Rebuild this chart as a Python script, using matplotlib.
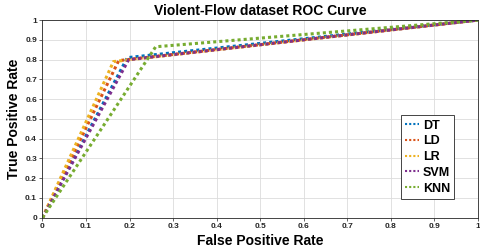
import matplotlib
matplotlib.use("Agg")
import matplotlib.pyplot as plt

models = ["DT", "LD", "LR", "SVM", "KNN"]
colors = ["#0072BD", "#D95319", "#EDB120", "#7E2F8E", "#77AC30"]
fpr = {
    "DT":  [0, 0.195, 1],
    "LD":  [0, 0.175, 1],
    "LR":  [0, 0.163, 1],
    "SVM": [0, 0.198, 1],
    "KNN": [0, 0.26, 1],
}
tpr = {
    "DT":  [0, 0.81, 1],
    "LD":  [0, 0.795, 1],
    "LR":  [0, 0.79, 1],
    "SVM": [0, 0.80, 1],
    "KNN": [0, 0.865, 1],
}
ticks = [0, 0.1, 0.2, 0.3, 0.4, 0.5, 0.6, 0.7, 0.8, 0.9, 1]
tick_labels = ["0", "0.1", "0.2", "0.3", "0.4", "0.5", "0.6", "0.7", "0.8", "0.9", "1"]

plt.rcParams['font.family'] = ['Liberation Sans', 'DejaVu Sans']
fig = plt.figure(figsize=(4.8, 2.48), dpi=100)
ax = fig.add_axes([0.0885, 0.122, 0.907, 0.797])

for m, c in zip(models, colors):
    ax.plot(fpr[m], tpr[m], linestyle=(0, (1, 1)), color=c, linewidth=2.2, label=m)

ax.set_xlim(0, 1)
ax.set_ylim(0, 1)
ax.set_xticks(ticks)
ax.set_xticklabels(tick_labels)
ax.set_yticks(ticks)
ax.set_yticklabels(tick_labels)
ax.tick_params(labelsize=6, length=2, width=0.5, pad=2, colors="#262626")
for lab in ax.get_xticklabels() + ax.get_yticklabels():
    lab.set_fontweight("bold")
ax.grid(True, color="#dcdcdc", linewidth=0.6)
for s in ax.spines.values():
    s.set_color("#262626")
    s.set_linewidth(0.6)

ax.set_title("Violent-Flow dataset ROC Curve", fontsize=10, fontweight="bold", pad=4)
ax.set_xlabel("False Positive Rate", fontsize=10, fontweight="bold", labelpad=3)
ax.set_ylabel("True Positive Rate", fontsize=10, fontweight="bold", labelpad=3)

leg = ax.legend(loc="lower right", bbox_to_anchor=(0.946, 0.095), borderaxespad=0,
                prop={"weight": "bold", "size": 9}, handlelength=1.1, handletextpad=0.3,
                borderpad=0.35, labelspacing=0.3, fancybox=False, framealpha=1,
                edgecolor="#262626")
leg.get_frame().set_linewidth(0.6)
for h in leg.get_lines():
    h.set_linewidth(1.5)

fig.savefig("out.png", dpi=100)
